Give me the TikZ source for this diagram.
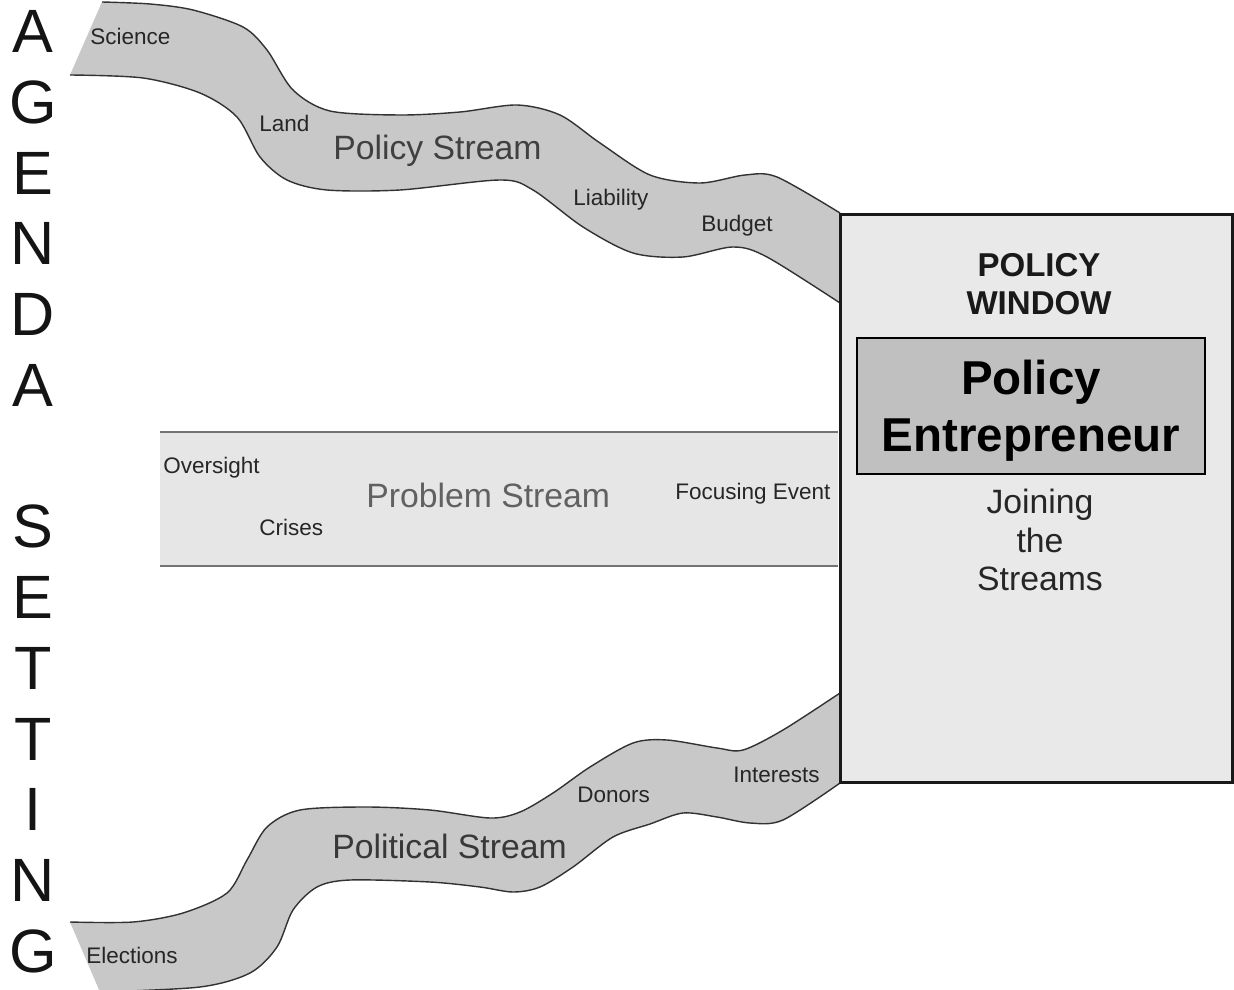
\documentclass[tikz,border=0pt]{standalone}
\usepackage{fontspec}
\setmainfont{Liberation Sans}
\usetikzlibrary{positioning}
\definecolor{streamgray}{RGB}{200,200,200}
\definecolor{problemgray}{RGB}{230,230,230}
\definecolor{windowgray}{RGB}{233,233,233}
\definecolor{entregray}{RGB}{192,192,192}
\definecolor{edgegray}{RGB}{50,50,50}
\definecolor{lightline}{RGB}{115,115,115}

\begin{document}
\begin{tikzpicture}[x=0.025cm, y=-0.025cm,
    smalltext/.style={anchor=base west, inner sep=0pt, text=black!85, font=\fontsize{16}{19}\selectfont},
    streamtitle/.style={anchor=base west, inner sep=0pt, font=\fontsize{24}{28}\selectfont},
    letter/.style={inner sep=0pt, text=black!92, font=\fontsize{43.5}{50}\selectfont},
    streamedge/.style={draw=edgegray, line width=1pt},
    problemedge/.style={draw=lightline, line width=1.8pt}]
        \useasboundingbox (0,0) rectangle (1234,990);
        % agenda setting %
        \foreach \l/\i in {A/0,G/1,E/2,N/3,D/4,A/5,S/7,E/8,T/9,T/10,I/11,N/12,G/13}
            \node[letter] (ag\i) at (33,{31.5+70.75*\i}) {\l};
        % policy stream %
        \fill[streamgray] plot[smooth] coordinates {(102,2) (150,4) (193,10) (243,27) (267,50) (293,90) (330,111) (400,115) (460,112) (517,105) (560,115) (600,143) (650,175) (700,183) (745,175) (777,177) (840,213)}
            -- plot[smooth] coordinates {(840,303) (767,257) (733,247) (683,257) (633,253) (583,227) (533,190) (500,180) (400,190) (327,190) (287,180) (260,157) (237,117) (200,93) (143,78) (70,75)} -- cycle;
        \draw[streamedge] plot[smooth] coordinates {(102,2) (150,4) (193,10) (243,27) (267,50) (293,90) (330,111) (400,115) (460,112) (517,105) (560,115) (600,143) (650,175) (700,183) (745,175) (777,177) (840,213)};
        \draw[streamedge] plot[smooth] coordinates {(840,303) (767,257) (733,247) (683,257) (633,253) (583,227) (533,190) (500,180) (400,190) (327,190) (287,180) (260,157) (237,117) (200,93) (143,78) (70,75)};
        % problem stream %
        \fill[problemgray] (160,432) rectangle (838,566);
        \draw[problemedge] (160,432) -- (838,432);
        \draw[problemedge] (160,566) -- (838,566);
        % political stream %
        \fill[streamgray] plot[smooth] coordinates {(70,922) (133,922) (183,913) (227,893) (247,860) (267,827) (300,810) (367,807) (430,810) (490,818) (520,812) (553,793) (590,767) (633,743) (667,740) (717,748) (743,750) (783,730) (840,693)}
            -- plot[smooth] coordinates {(840,783) (783,820) (750,823) (717,817) (683,813) (650,824) (613,837) (573,867) (540,887) (513,892) (480,887) (430,882) (350,880) (317,887) (293,910) (277,947) (250,973) (200,987) (100,992)} -- cycle;
        \draw[streamedge] plot[smooth] coordinates {(70,922) (133,922) (183,913) (227,893) (247,860) (267,827) (300,810) (367,807) (430,810) (490,818) (520,812) (553,793) (590,767) (633,743) (667,740) (717,748) (743,750) (783,730) (840,693)};
        \draw[streamedge] plot[smooth] coordinates {(840,783) (783,820) (750,823) (717,817) (683,813) (650,824) (613,837) (573,867) (540,887) (513,892) (480,887) (430,882) (350,880) (317,887) (293,910) (277,947) (250,973) (200,987) (100,992)};
        % labels %
        \node[smalltext] (science) at (90,45) {Science};
        \node[smalltext] (land) at (259,132) {Land};
        \node[streamtitle, text=black!75] (policystream) at (333,160) {Policy Stream};
        \node[smalltext] (liability) at (573,206) {Liability};
        \node[smalltext] (budget) at (701,232) {Budget};
        \node[smalltext] (oversight) at (163,473) {Oversight};
        \node[smalltext] (crises) at (259,535) {Crises};
        \node[streamtitle, text=black!62] (problemstream) at (366,507) {Problem Stream};
        \node[smalltext] (focusing) at (675,499) {Focusing Event};
        \node[smalltext] (elections) at (86,963) {Elections};
        \node[streamtitle, text=black!78] (politicalstream) at (332,858) {Political Stream};
        \node[smalltext] (donors) at (577,802) {Donors};
        \node[smalltext] (interests) at (733,782) {Interests};
        % window %
        \node[draw=black!90, line width=2.1pt, fill=windowgray, minimum width=9.775cm, minimum height=14.175cm, inner sep=0pt] (window) at (1036.5,498.5) {};
        \node[align=center, text=black!90, font=\bfseries\fontsize{23.5}{27}\selectfont] (windowtitle) at (1039,284.5) {POLICY\\WINDOW};
        \node[draw=black, line width=1.4pt, fill=entregray, minimum width=8.7cm, minimum height=3.4cm, inner sep=0pt] (entrebox) at (1031,406) {};
        \node[align=center, font=\bfseries\fontsize{33.8}{40.5}\selectfont] (entre) at (1031,411) {Policy\\Entrepreneur};
        \node[align=center, text=black!85, font=\fontsize{24}{27.4}\selectfont] (joining) at (1040,540) {Joining\\the\\Streams};
\end{tikzpicture}
\end{document}
